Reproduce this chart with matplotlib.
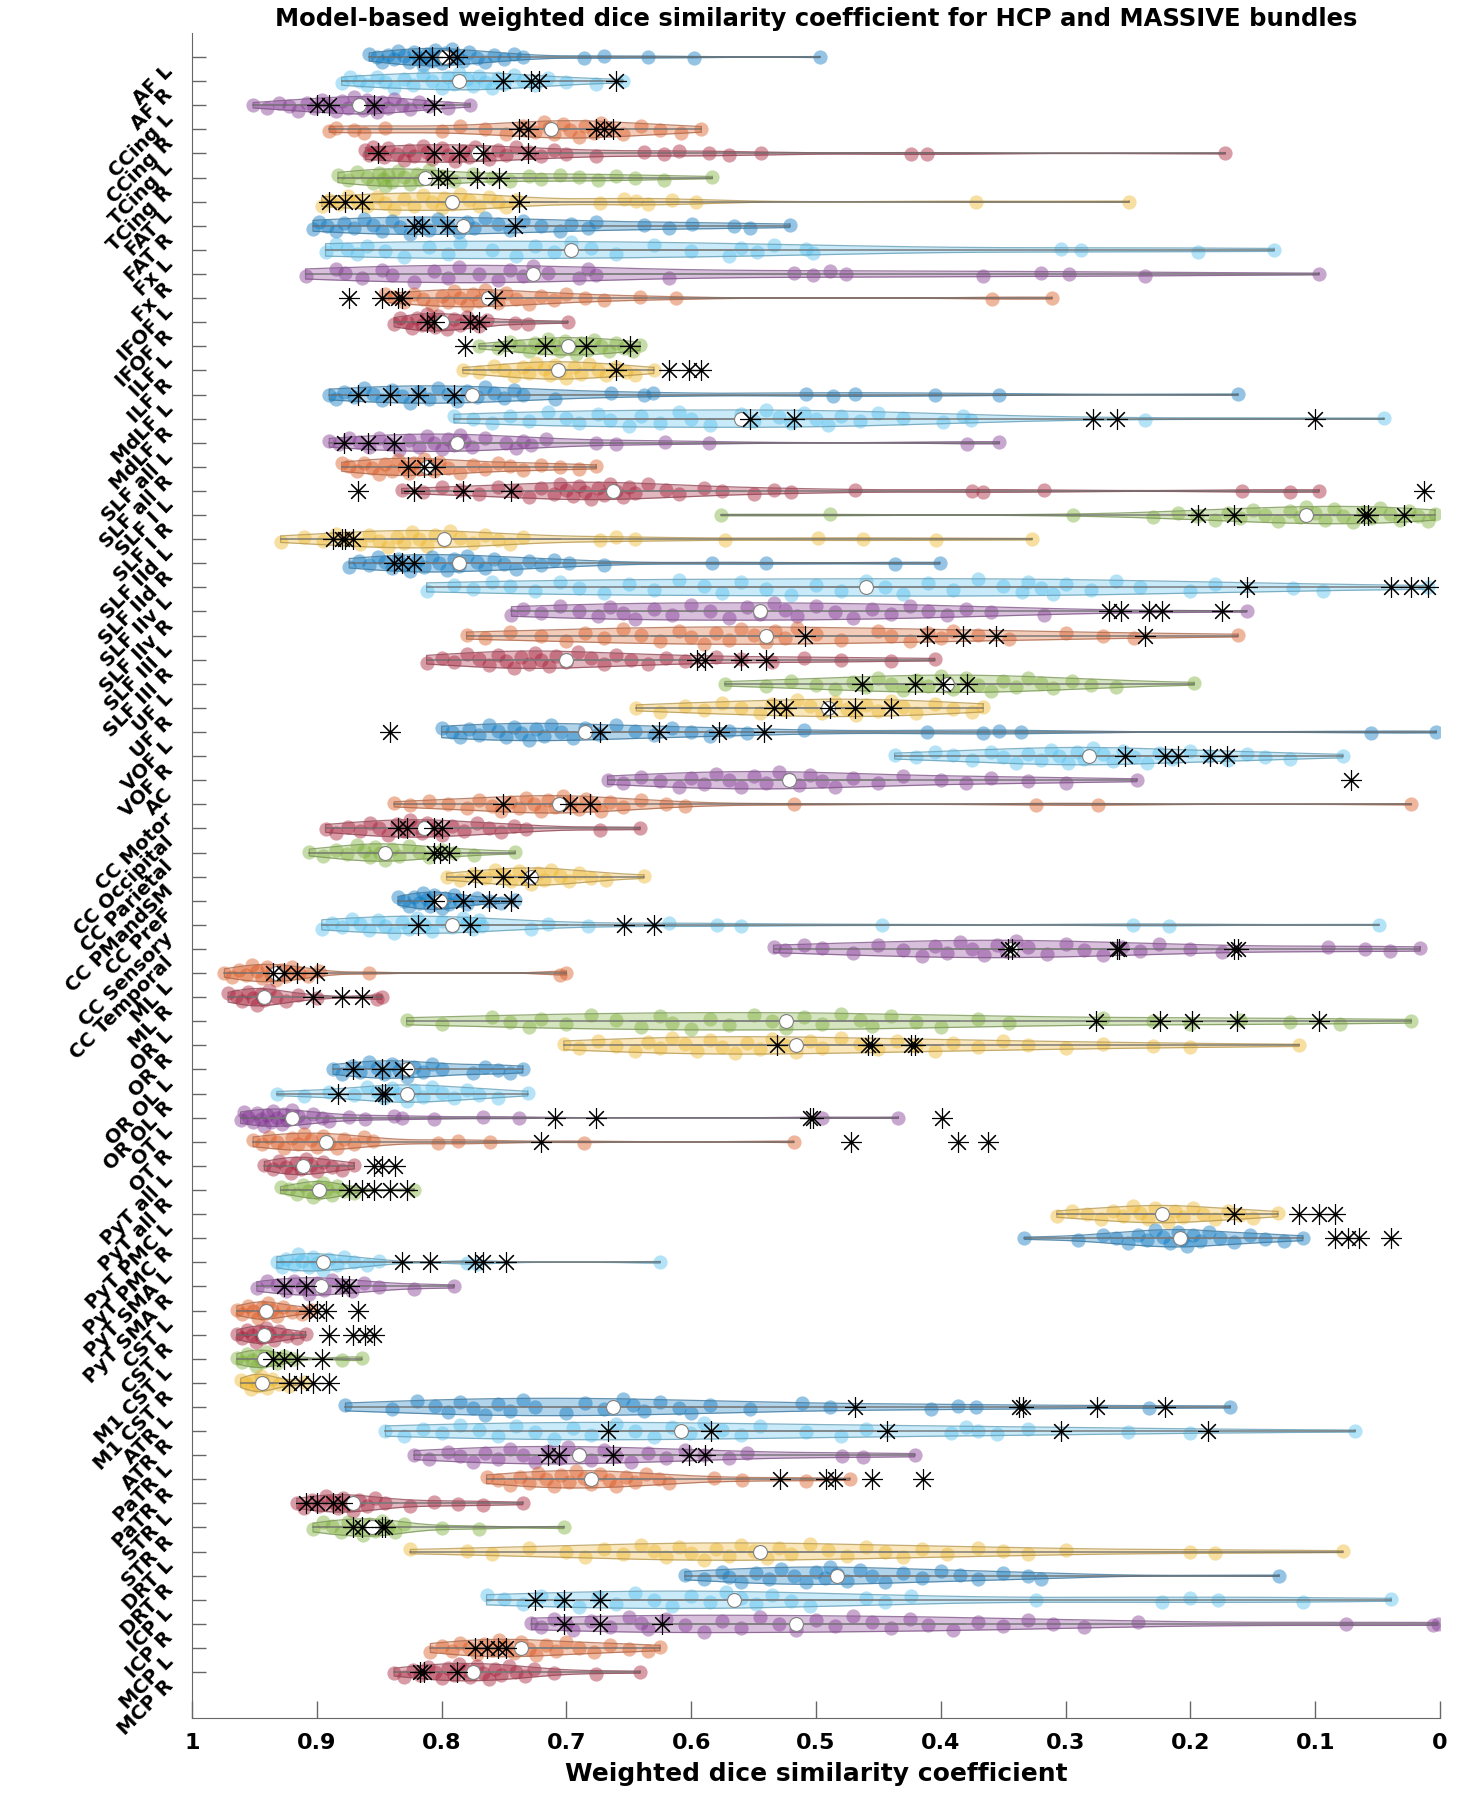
import numpy as np
import matplotlib
matplotlib.use("Agg")
import matplotlib.pyplot as plt
from matplotlib.colors import to_rgb
from matplotlib.transforms import ScaledTranslation, blended_transform_factory

bundles = ["AF L", "AF R", "CCing L", "CCing R", "TCing L", "TCing R", "FAT L", "FAT R",
           "Fx L", "Fx R", "IFOF L", "IFOF R", "ILF L", "ILF R", "MdLF L", "MdLF R",
           "SLF all L", "SLF all R", "SLF I L", "SLF I R", "SLF IId L", "SLF IId R",
           "SLF IIv L", "SLF IIv R", "SLF III L", "SLF III R", "UF L", "UF R", "VOF L", "VOF R",
           "AC", "CC Motor", "CC Occipital", "CC Parietal", "CC PMandSM", "CC PreF",
           "CC Sensory", "CC Temporal", "ML L", "ML R", "OR L", "OR R", "OR OL L", "OR OL R",
           "OT L", "OT R", "PyT all L", "PyT all R", "PyT PMC L", "PyT PMC R", "PyT SMA L",
           "PyT SMA R", "CST L", "CST R", "M1 CST L", "M1 CST R", "ATR L", "ATR R", "PaTR L",
           "PaTR R", "STR L", "STR R", "DRT L", "DRT R", "ICP L", "ICP R", "MCP L", "MCP R"]

# HCP subjects (coloured dots) and MASSIVE (black asterisks), one pair of lists per bundle
hcp_af_l = [0.858, 0.852, 0.848, 0.843, 0.838, 0.835, 0.83, 0.826, 0.822, 0.818, 0.815, 0.812, 0.808, 0.805, 0.802, 0.8, 0.797, 0.795, 0.792, 0.788, 0.783, 0.778, 0.772, 0.765, 0.758, 0.75, 0.742, 0.735, 0.686, 0.67, 0.635, 0.598, 0.497]
massive_af_l = [0.818, 0.808, 0.794, 0.788]
hcp_af_r = [0.88, 0.873, 0.866, 0.86, 0.852, 0.845, 0.838, 0.83, 0.823, 0.815, 0.808, 0.80, 0.795, 0.79, 0.786, 0.78, 0.775, 0.77, 0.765, 0.76, 0.755, 0.75, 0.742, 0.735, 0.725, 0.715, 0.70, 0.676, 0.655]
massive_af_r = [0.751, 0.728, 0.722, 0.660]
hcp_ccing_l = [0.951, 0.94, 0.93, 0.922, 0.915, 0.908, 0.902, 0.896, 0.89, 0.885, 0.88, 0.875, 0.87, 0.866, 0.863, 0.86, 0.856, 0.852, 0.848, 0.843, 0.838, 0.832, 0.825, 0.818, 0.81, 0.795, 0.777]
massive_ccing_l = [0.9, 0.89, 0.854, 0.806]
hcp_ccing_r = [0.89, 0.885, 0.87, 0.862, 0.845, 0.80, 0.785, 0.765, 0.748, 0.735, 0.725, 0.718, 0.714, 0.71, 0.703, 0.697, 0.69, 0.685, 0.678, 0.672, 0.665, 0.655, 0.64, 0.625, 0.608, 0.592]
massive_ccing_r = [0.738, 0.731, 0.676, 0.670, 0.663]
hcp_tcing_l = [0.861, 0.858, 0.855, 0.85, 0.846, 0.843, 0.836, 0.83, 0.826, 0.822, 0.815, 0.812, 0.808, 0.8, 0.795, 0.789, 0.783, 0.778, 0.773, 0.768, 0.762, 0.755, 0.748, 0.74, 0.73, 0.72, 0.71, 0.70, 0.676, 0.638, 0.622, 0.61, 0.586, 0.57, 0.544, 0.424, 0.411, 0.172]
massive_tcing_l = [0.851, 0.806, 0.786, 0.767, 0.731]
hcp_tcing_r = [0.883, 0.875, 0.868, 0.86, 0.855, 0.85, 0.847, 0.845, 0.843, 0.84, 0.835, 0.83, 0.825, 0.82, 0.817, 0.81, 0.8, 0.79, 0.775, 0.76, 0.745, 0.73, 0.72, 0.705, 0.69, 0.675, 0.66, 0.645, 0.622, 0.583]
massive_tcing_r = [0.803, 0.796, 0.772, 0.754]
hcp_fat_l = [0.896, 0.89, 0.882, 0.875, 0.868, 0.86, 0.852, 0.845, 0.838, 0.83, 0.822, 0.815, 0.808, 0.80, 0.798, 0.792, 0.785, 0.778, 0.77, 0.762, 0.755, 0.748, 0.74, 0.673, 0.654, 0.644, 0.635, 0.615, 0.596, 0.372, 0.249]
massive_fat_l = [0.89, 0.877, 0.864, 0.738]
hcp_fat_r = [0.903, 0.898, 0.892, 0.885, 0.878, 0.87, 0.862, 0.855, 0.848, 0.84, 0.833, 0.825, 0.818, 0.81, 0.803, 0.795, 0.786, 0.78, 0.774, 0.765, 0.755, 0.745, 0.735, 0.72, 0.705, 0.696, 0.683, 0.676, 0.638, 0.618, 0.599, 0.566, 0.553, 0.521]
massive_fat_r = [0.822, 0.816, 0.796, 0.741]
hcp_fx_l = [0.893, 0.885, 0.876, 0.868, 0.86, 0.845, 0.83, 0.81, 0.795, 0.785, 0.76, 0.74, 0.725, 0.71, 0.696, 0.68, 0.66, 0.63, 0.6, 0.57, 0.56, 0.547, 0.534, 0.508, 0.502, 0.304, 0.288, 0.194, 0.133]
massive_fx_l = []
hcp_fx_r = [0.909, 0.885, 0.877, 0.864, 0.848, 0.84, 0.822, 0.806, 0.795, 0.786, 0.77, 0.755, 0.745, 0.735, 0.727, 0.715, 0.69, 0.683, 0.676, 0.618, 0.518, 0.502, 0.489, 0.476, 0.366, 0.32, 0.297, 0.236, 0.097]
massive_fx_r = []
hcp_ifof_l = [0.845, 0.838, 0.83, 0.822, 0.815, 0.808, 0.80, 0.795, 0.79, 0.785, 0.78, 0.775, 0.77, 0.765, 0.76, 0.755, 0.748, 0.74, 0.73, 0.72, 0.71, 0.70, 0.685, 0.67, 0.641, 0.612, 0.359, 0.311]
massive_ifof_l = [0.874, 0.848, 0.835, 0.832, 0.757]
hcp_ifof_r = [0.838, 0.833, 0.828, 0.824, 0.82, 0.816, 0.812, 0.808, 0.805, 0.803, 0.8, 0.796, 0.79, 0.785, 0.78, 0.775, 0.77, 0.764, 0.741, 0.731, 0.699]
massive_ifof_r = [0.812, 0.806, 0.777, 0.77]
hcp_ilf_l = [0.77, 0.755, 0.745, 0.738, 0.73, 0.725, 0.72, 0.715, 0.71, 0.705, 0.701, 0.697, 0.692, 0.688, 0.683, 0.678, 0.672, 0.666, 0.66, 0.654, 0.647, 0.641]
massive_ilf_l = [0.781, 0.749, 0.717, 0.684, 0.649]
hcp_ilf_r = [0.783, 0.77, 0.758, 0.75, 0.742, 0.735, 0.73, 0.724, 0.718, 0.713, 0.709, 0.705, 0.70, 0.694, 0.688, 0.682, 0.675, 0.668, 0.66, 0.652, 0.645, 0.63]
massive_ilf_r = [0.66, 0.618, 0.602, 0.592]
hcp_mdlf_l = [0.89, 0.885, 0.878, 0.87, 0.862, 0.855, 0.848, 0.84, 0.832, 0.825, 0.818, 0.81, 0.803, 0.795, 0.788, 0.78, 0.772, 0.765, 0.758, 0.75, 0.742, 0.735, 0.709, 0.664, 0.638, 0.631, 0.508, 0.486, 0.469, 0.405, 0.353, 0.162]
massive_mdlf_l = [0.867, 0.841, 0.819, 0.79]
hcp_mdlf_r = [0.79, 0.775, 0.76, 0.745, 0.73, 0.715, 0.70, 0.69, 0.675, 0.665, 0.65, 0.64, 0.625, 0.61, 0.6, 0.585, 0.56, 0.55, 0.54, 0.53, 0.52, 0.51, 0.5, 0.49, 0.48, 0.465, 0.45, 0.43, 0.398, 0.382, 0.376, 0.236, 0.045]
massive_mdlf_r = [0.553, 0.518, 0.278, 0.259, 0.1]
hcp_slf_all_l = [0.89, 0.882, 0.874, 0.866, 0.858, 0.85, 0.842, 0.834, 0.826, 0.818, 0.812, 0.806, 0.8, 0.795, 0.79, 0.785, 0.782, 0.776, 0.765, 0.748, 0.74, 0.735, 0.728, 0.716, 0.676, 0.66, 0.621, 0.586, 0.379, 0.353]
massive_slf_all_l = [0.878, 0.859, 0.838]
hcp_slf_all_r = [0.88, 0.874, 0.868, 0.862, 0.856, 0.85, 0.845, 0.84, 0.835, 0.83, 0.826, 0.822, 0.818, 0.814, 0.81, 0.806, 0.802, 0.795, 0.785, 0.775, 0.765, 0.755, 0.745, 0.735, 0.72, 0.705, 0.69, 0.676]
massive_slf_all_r = [0.827, 0.814, 0.805]
hcp_slf_i_l = [0.832, 0.815, 0.8, 0.785, 0.77, 0.755, 0.74, 0.73, 0.72, 0.71, 0.705, 0.70, 0.695, 0.69, 0.685, 0.68, 0.675, 0.67, 0.665, 0.66, 0.655, 0.65, 0.645, 0.635, 0.62, 0.61, 0.59, 0.575, 0.55, 0.534, 0.52, 0.469, 0.375, 0.366, 0.317, 0.159, 0.12, 0.097]
massive_slf_i_l = [0.867, 0.822, 0.783, 0.744, 0.013]
hcp_slf_i_r = [0.576, 0.489, 0.294, 0.23, 0.21, 0.195, 0.18, 0.17, 0.16, 0.15, 0.14, 0.13, 0.12, 0.112, 0.107, 0.1, 0.092, 0.085, 0.078, 0.07, 0.062, 0.055, 0.048, 0.04, 0.032, 0.025, 0.018, 0.01, 0.004]
massive_slf_i_r = [0.194, 0.165, 0.061, 0.058, 0.029]
hcp_slf_iid_l = [0.929, 0.91, 0.895, 0.885, 0.875, 0.865, 0.858, 0.85, 0.843, 0.836, 0.83, 0.824, 0.818, 0.812, 0.805, 0.798, 0.793, 0.785, 0.775, 0.765, 0.755, 0.745, 0.735, 0.673, 0.66, 0.645, 0.573, 0.498, 0.462, 0.404, 0.327]
massive_slf_iid_l = [0.887, 0.88, 0.877, 0.871]
hcp_slf_iid_r = [0.874, 0.866, 0.858, 0.851, 0.845, 0.84, 0.835, 0.83, 0.825, 0.82, 0.814, 0.808, 0.802, 0.796, 0.79, 0.786, 0.78, 0.772, 0.765, 0.758, 0.75, 0.74, 0.73, 0.72, 0.71, 0.698, 0.67, 0.583, 0.54, 0.437, 0.401]
massive_slf_iid_r = [0.838, 0.832, 0.822]
hcp_slf_iiv_l = [0.812, 0.79, 0.775, 0.76, 0.745, 0.725, 0.705, 0.69, 0.67, 0.65, 0.63, 0.61, 0.59, 0.575, 0.56, 0.54, 0.52, 0.5, 0.48, 0.46, 0.445, 0.43, 0.41, 0.39, 0.37, 0.35, 0.335, 0.33, 0.32, 0.31, 0.3, 0.28, 0.26, 0.24, 0.2, 0.18, 0.118, 0.094, 0.01]
massive_slf_iiv_l = [0.155, 0.039, 0.023, 0.01]
hcp_slf_iiv_r = [0.744, 0.735, 0.72, 0.705, 0.69, 0.675, 0.665, 0.655, 0.645, 0.63, 0.615, 0.6, 0.585, 0.57, 0.555, 0.545, 0.534, 0.525, 0.515, 0.5, 0.485, 0.47, 0.455, 0.44, 0.425, 0.41, 0.395, 0.38, 0.36, 0.317, 0.155]
massive_slf_iiv_r = [0.265, 0.256, 0.233, 0.223, 0.175]
hcp_slf_iii_l = [0.78, 0.765, 0.745, 0.72, 0.7, 0.685, 0.67, 0.655, 0.64, 0.625, 0.61, 0.6, 0.59, 0.58, 0.57, 0.56, 0.55, 0.54, 0.533, 0.525, 0.515, 0.5, 0.48, 0.45, 0.44, 0.425, 0.41, 0.4, 0.39, 0.37, 0.345, 0.3, 0.27, 0.245, 0.162]
massive_slf_iii_l = [0.509, 0.411, 0.382, 0.356, 0.236]
hcp_slf_iii_r = [0.812, 0.8, 0.79, 0.78, 0.77, 0.762, 0.755, 0.748, 0.742, 0.736, 0.73, 0.725, 0.72, 0.714, 0.708, 0.7, 0.691, 0.68, 0.67, 0.66, 0.648, 0.635, 0.62, 0.605, 0.58, 0.56, 0.535, 0.51, 0.48, 0.44, 0.405]
massive_slf_iii_r = [0.595, 0.589, 0.56, 0.54]
hcp_uf_l = [0.573, 0.54, 0.52, 0.5, 0.485, 0.47, 0.46, 0.45, 0.44, 0.43, 0.42, 0.41, 0.4, 0.395, 0.39, 0.38, 0.37, 0.36, 0.35, 0.34, 0.33, 0.32, 0.31, 0.295, 0.28, 0.26, 0.197]
massive_uf_l = [0.463, 0.421, 0.398, 0.379]
hcp_uf_r = [0.644, 0.625, 0.605, 0.59, 0.575, 0.56, 0.545, 0.535, 0.525, 0.515, 0.505, 0.495, 0.485, 0.475, 0.468, 0.46, 0.45, 0.44, 0.43, 0.42, 0.405, 0.39, 0.375, 0.366]
massive_uf_r = [0.534, 0.524, 0.489, 0.469, 0.44]
hcp_vof_l = [0.8, 0.792, 0.785, 0.778, 0.77, 0.762, 0.755, 0.748, 0.742, 0.736, 0.73, 0.724, 0.718, 0.712, 0.704, 0.695, 0.685, 0.675, 0.66, 0.645, 0.63, 0.615, 0.6, 0.585, 0.57, 0.555, 0.51, 0.411, 0.366, 0.353, 0.336, 0.055, 0.003]
massive_vof_l = [0.841, 0.673, 0.626, 0.578, 0.542]
hcp_vof_r = [0.437, 0.42, 0.405, 0.39, 0.375, 0.36, 0.35, 0.34, 0.33, 0.32, 0.312, 0.305, 0.298, 0.291, 0.285, 0.278, 0.27, 0.262, 0.254, 0.245, 0.235, 0.225, 0.215, 0.2, 0.185, 0.17, 0.155, 0.14, 0.12, 0.078]
massive_vof_r = [0.252, 0.22, 0.21, 0.184, 0.171]
hcp_ac = [0.667, 0.655, 0.64, 0.625, 0.61, 0.6, 0.59, 0.58, 0.57, 0.56, 0.55, 0.54, 0.53, 0.522, 0.514, 0.505, 0.495, 0.485, 0.47, 0.45, 0.43, 0.4, 0.38, 0.36, 0.33, 0.3, 0.243]
massive_ac = [0.071]
hcp_cc_motor = [0.838, 0.825, 0.81, 0.795, 0.78, 0.77, 0.76, 0.752, 0.745, 0.738, 0.732, 0.726, 0.72, 0.715, 0.709, 0.703, 0.697, 0.69, 0.684, 0.678, 0.672, 0.665, 0.655, 0.64, 0.62, 0.605, 0.518, 0.324, 0.274, 0.023]
massive_cc_motor = [0.751, 0.697, 0.681]
hcp_cc_occipital = [0.893, 0.885, 0.875, 0.865, 0.857, 0.85, 0.843, 0.836, 0.83, 0.825, 0.82, 0.816, 0.812, 0.806, 0.8, 0.792, 0.782, 0.772, 0.762, 0.752, 0.742, 0.732, 0.673, 0.641]
massive_cc_occipital = [0.835, 0.828, 0.806, 0.8]
hcp_cc_parietal = [0.906, 0.895, 0.885, 0.876, 0.868, 0.862, 0.857, 0.853, 0.849, 0.845, 0.84, 0.834, 0.826, 0.818, 0.81, 0.8, 0.79, 0.774, 0.741]
massive_cc_parietal = [0.806, 0.801, 0.794]
hcp_cc_pmandsm = [0.796, 0.785, 0.775, 0.765, 0.757, 0.75, 0.744, 0.738, 0.733, 0.728, 0.723, 0.718, 0.712, 0.705, 0.698, 0.69, 0.68, 0.668, 0.638]
massive_cc_pmandsm = [0.773, 0.751, 0.731]
hcp_cc_pref = [0.835, 0.83, 0.826, 0.822, 0.818, 0.815, 0.812, 0.809, 0.806, 0.803, 0.8, 0.797, 0.794, 0.79, 0.786, 0.78, 0.772, 0.762, 0.752, 0.741]
massive_cc_pref = [0.806, 0.783, 0.762, 0.744]
hcp_cc_sensory = [0.896, 0.888, 0.88, 0.872, 0.865, 0.858, 0.851, 0.845, 0.838, 0.832, 0.826, 0.82, 0.814, 0.808, 0.8, 0.792, 0.783, 0.78, 0.775, 0.77, 0.768, 0.728, 0.715, 0.683, 0.618, 0.579, 0.56, 0.447, 0.246, 0.217, 0.049]
massive_cc_sensory = [0.819, 0.777, 0.654, 0.63]
hcp_cc_temporal = [0.534, 0.525, 0.51, 0.495, 0.47, 0.45, 0.43, 0.415, 0.405, 0.395, 0.385, 0.375, 0.365, 0.355, 0.348, 0.34, 0.33, 0.315, 0.3, 0.285, 0.27, 0.255, 0.24, 0.225, 0.2, 0.175, 0.09, 0.06, 0.04, 0.016]
massive_cc_temporal = [0.346, 0.343, 0.259, 0.257, 0.165, 0.162]
hcp_ml_l = [0.974, 0.968, 0.962, 0.957, 0.952, 0.948, 0.944, 0.94, 0.937, 0.933, 0.929, 0.925, 0.92, 0.914, 0.907, 0.898, 0.858, 0.705, 0.7]
massive_ml_l = [0.935, 0.926, 0.916, 0.9]
hcp_ml_r = [0.971, 0.965, 0.96, 0.955, 0.951, 0.948, 0.945, 0.942, 0.938, 0.933, 0.925, 0.915, 0.9, 0.852, 0.848]
massive_ml_r = [0.903, 0.88, 0.864]
hcp_or_l = [0.828, 0.8, 0.76, 0.745, 0.73, 0.72, 0.7, 0.68, 0.66, 0.64, 0.625, 0.615, 0.6, 0.585, 0.57, 0.55, 0.535, 0.524, 0.51, 0.495, 0.48, 0.465, 0.455, 0.44, 0.42, 0.4, 0.37, 0.345, 0.27, 0.23, 0.2, 0.16, 0.12, 0.08, 0.023]
massive_or_l = [0.276, 0.224, 0.199, 0.163, 0.097]
hcp_or_r = [0.702, 0.69, 0.675, 0.66, 0.645, 0.635, 0.625, 0.615, 0.605, 0.595, 0.585, 0.575, 0.565, 0.555, 0.545, 0.535, 0.525, 0.516, 0.505, 0.495, 0.48, 0.465, 0.45, 0.435, 0.42, 0.405, 0.39, 0.37, 0.35, 0.33, 0.3, 0.27, 0.23, 0.2, 0.113]
massive_or_r = [0.531, 0.458, 0.455, 0.424, 0.421]
hcp_or_ol_l = [0.887, 0.88, 0.872, 0.865, 0.858, 0.852, 0.846, 0.84, 0.834, 0.828, 0.822, 0.815, 0.808, 0.8, 0.775, 0.765, 0.755, 0.745, 0.735]
massive_or_ol_l = [0.871, 0.848, 0.832]
hcp_or_ol_r = [0.932, 0.91, 0.89, 0.87, 0.86, 0.852, 0.846, 0.84, 0.834, 0.828, 0.822, 0.815, 0.808, 0.8, 0.79, 0.78, 0.77, 0.755, 0.731]
massive_or_ol_r = [0.883, 0.848, 0.845]
hcp_ot_l = [0.961, 0.958, 0.955, 0.951, 0.948, 0.945, 0.942, 0.94, 0.937, 0.935, 0.932, 0.928, 0.926, 0.924, 0.92, 0.915, 0.91, 0.903, 0.896, 0.89, 0.874, 0.861, 0.838, 0.832, 0.806, 0.767, 0.738, 0.495, 0.434]
massive_ot_l = [0.709, 0.676, 0.505, 0.502, 0.399]
hcp_ot_r = [0.951, 0.944, 0.938, 0.932, 0.926, 0.92, 0.915, 0.91, 0.905, 0.9, 0.895, 0.89, 0.884, 0.878, 0.87, 0.862, 0.855, 0.803, 0.787, 0.761, 0.686, 0.518]
massive_ot_r = [0.72, 0.472, 0.386, 0.362]
hcp_pyt_all_l = [0.942, 0.935, 0.93, 0.925, 0.921, 0.917, 0.913, 0.909, 0.905, 0.9, 0.895, 0.888, 0.88, 0.87]
massive_pyt_all_l = [0.854, 0.848, 0.837]
hcp_pyt_all_r = [0.929, 0.922, 0.916, 0.911, 0.907, 0.903, 0.9, 0.898, 0.895, 0.892, 0.888, 0.884, 0.878, 0.87, 0.822]
massive_pyt_all_r = [0.874, 0.864, 0.854, 0.841, 0.828]
hcp_pyt_pmc_l = [0.307, 0.295, 0.283, 0.272, 0.262, 0.254, 0.246, 0.24, 0.234, 0.228, 0.223, 0.218, 0.212, 0.206, 0.198, 0.19, 0.18, 0.17, 0.16, 0.15, 0.13]
massive_pyt_pmc_l = [0.165, 0.113, 0.097, 0.084]
hcp_pyt_pmc_r = [0.333, 0.29, 0.27, 0.26, 0.25, 0.242, 0.235, 0.228, 0.222, 0.216, 0.21, 0.207, 0.203, 0.198, 0.192, 0.185, 0.176, 0.165, 0.152, 0.14, 0.125, 0.11]
massive_pyt_pmc_r = [0.084, 0.074, 0.065, 0.039]
hcp_pyt_sma_l = [0.932, 0.928, 0.925, 0.918, 0.915, 0.912, 0.906, 0.903, 0.9, 0.895, 0.89, 0.884, 0.878, 0.87, 0.86, 0.85, 0.78, 0.772, 0.625]
massive_pyt_sma_l = [0.832, 0.809, 0.773, 0.767, 0.748]
hcp_pyt_sma_r = [0.948, 0.94, 0.932, 0.925, 0.918, 0.912, 0.906, 0.9, 0.894, 0.888, 0.88, 0.872, 0.862, 0.85, 0.822, 0.79]
massive_pyt_sma_r = [0.926, 0.909, 0.88, 0.874]
hcp_cst_l = [0.964, 0.96, 0.955, 0.951, 0.947, 0.944, 0.942, 0.939, 0.936, 0.932, 0.927, 0.92, 0.912, 0.905]
massive_cst_l = [0.906, 0.9, 0.893, 0.867]
hcp_cst_r = [0.964, 0.96, 0.956, 0.952, 0.949, 0.946, 0.944, 0.941, 0.938, 0.934, 0.93, 0.924, 0.916, 0.909]
massive_cst_r = [0.89, 0.871, 0.861, 0.854]
hcp_m1_cst_l = [0.964, 0.96, 0.956, 0.952, 0.949, 0.946, 0.944, 0.941, 0.937, 0.932, 0.926, 0.918, 0.88, 0.864]
massive_m1_cst_l = [0.935, 0.926, 0.916, 0.896]
hcp_m1_cst_r = [0.961, 0.957, 0.953, 0.95, 0.947, 0.945, 0.943, 0.94, 0.936, 0.93, 0.922, 0.91]
massive_m1_cst_r = [0.922, 0.913, 0.903, 0.89]
hcp_atr_l = [0.877, 0.84, 0.82, 0.805, 0.795, 0.785, 0.775, 0.765, 0.755, 0.745, 0.735, 0.725, 0.7, 0.685, 0.67, 0.655, 0.647, 0.638, 0.625, 0.61, 0.6, 0.585, 0.553, 0.511, 0.489, 0.408, 0.386, 0.372, 0.233, 0.168]
massive_atr_l = [0.469, 0.337, 0.334, 0.275, 0.22]
hcp_atr_r = [0.845, 0.83, 0.815, 0.8, 0.785, 0.77, 0.755, 0.74, 0.725, 0.71, 0.695, 0.68, 0.66, 0.645, 0.63, 0.615, 0.601, 0.59, 0.575, 0.56, 0.545, 0.508, 0.48, 0.46, 0.392, 0.38, 0.37, 0.355, 0.33, 0.25, 0.2, 0.068]
massive_atr_r = [0.667, 0.584, 0.443, 0.304, 0.186]
hcp_patr_l = [0.822, 0.81, 0.795, 0.785, 0.775, 0.765, 0.755, 0.745, 0.735, 0.725, 0.715, 0.705, 0.699, 0.69, 0.68, 0.67, 0.66, 0.648, 0.635, 0.62, 0.605, 0.59, 0.57, 0.555, 0.479, 0.462, 0.421]
massive_patr_l = [0.715, 0.706, 0.663, 0.602, 0.589]
hcp_patr_r = [0.764, 0.755, 0.745, 0.737, 0.73, 0.723, 0.716, 0.71, 0.704, 0.698, 0.692, 0.686, 0.68, 0.673, 0.666, 0.66, 0.652, 0.645, 0.636, 0.626, 0.618, 0.582, 0.559, 0.508, 0.473]
massive_patr_r = [0.529, 0.492, 0.485, 0.455, 0.414]
hcp_str_l = [0.916, 0.91, 0.904, 0.898, 0.893, 0.888, 0.883, 0.879, 0.875, 0.871, 0.866, 0.86, 0.853, 0.845, 0.825, 0.806, 0.787, 0.767, 0.735]
massive_str_l = [0.909, 0.9, 0.887, 0.88]
hcp_str_r = [0.903, 0.895, 0.888, 0.881, 0.875, 0.869, 0.863, 0.858, 0.853, 0.848, 0.843, 0.837, 0.83, 0.8, 0.77, 0.702]
massive_str_r = [0.871, 0.864, 0.848, 0.845]
hcp_drt_l = [0.825, 0.78, 0.76, 0.73, 0.7, 0.685, 0.67, 0.655, 0.64, 0.63, 0.62, 0.61, 0.6, 0.59, 0.58, 0.57, 0.56, 0.55, 0.539, 0.53, 0.52, 0.505, 0.49, 0.475, 0.46, 0.445, 0.43, 0.415, 0.395, 0.37, 0.35, 0.33, 0.3, 0.2, 0.18, 0.078]
massive_drt_l = []
hcp_drt_r = [0.605, 0.59, 0.575, 0.57, 0.56, 0.548, 0.538, 0.528, 0.518, 0.508, 0.5, 0.493, 0.489, 0.483, 0.475, 0.465, 0.455, 0.445, 0.43, 0.415, 0.4, 0.385, 0.37, 0.35, 0.33, 0.32, 0.129]
massive_drt_r = []
hcp_icp_l = [0.764, 0.75, 0.735, 0.72, 0.705, 0.69, 0.675, 0.66, 0.645, 0.63, 0.615, 0.6, 0.585, 0.572, 0.56, 0.548, 0.535, 0.52, 0.505, 0.46, 0.445, 0.424, 0.324, 0.223, 0.2, 0.178, 0.11, 0.039]
massive_icp_l = [0.725, 0.702, 0.673]
hcp_icp_r = [0.728, 0.72, 0.71, 0.7, 0.695, 0.68, 0.665, 0.65, 0.64, 0.635, 0.62, 0.605, 0.59, 0.575, 0.56, 0.545, 0.53, 0.516, 0.5, 0.485, 0.47, 0.455, 0.44, 0.425, 0.41, 0.39, 0.37, 0.35, 0.33, 0.31, 0.285, 0.242, 0.075, 0.006, 0.002]
massive_icp_r = [0.702, 0.673, 0.623]
hcp_mcp_l = [0.809, 0.8, 0.792, 0.785, 0.778, 0.772, 0.766, 0.76, 0.754, 0.748, 0.742, 0.736, 0.73, 0.724, 0.716, 0.708, 0.7, 0.69, 0.678, 0.665, 0.65, 0.635, 0.625]
massive_mcp_l = [0.773, 0.764, 0.755, 0.748]
hcp_mcp_r = [0.838, 0.83, 0.823, 0.817, 0.811, 0.805, 0.8, 0.795, 0.79, 0.786, 0.781, 0.777, 0.772, 0.767, 0.762, 0.757, 0.752, 0.746, 0.74, 0.733, 0.726, 0.71, 0.676, 0.641]
massive_mcp_r = [0.817, 0.814, 0.788]

hcp = [hcp_af_l, hcp_af_r, hcp_ccing_l, hcp_ccing_r, hcp_tcing_l, hcp_tcing_r, hcp_fat_l, hcp_fat_r,
       hcp_fx_l, hcp_fx_r, hcp_ifof_l, hcp_ifof_r, hcp_ilf_l, hcp_ilf_r, hcp_mdlf_l, hcp_mdlf_r,
       hcp_slf_all_l, hcp_slf_all_r, hcp_slf_i_l, hcp_slf_i_r, hcp_slf_iid_l, hcp_slf_iid_r,
       hcp_slf_iiv_l, hcp_slf_iiv_r, hcp_slf_iii_l, hcp_slf_iii_r, hcp_uf_l, hcp_uf_r, hcp_vof_l, hcp_vof_r,
       hcp_ac, hcp_cc_motor, hcp_cc_occipital, hcp_cc_parietal, hcp_cc_pmandsm, hcp_cc_pref,
       hcp_cc_sensory, hcp_cc_temporal, hcp_ml_l, hcp_ml_r, hcp_or_l, hcp_or_r, hcp_or_ol_l, hcp_or_ol_r,
       hcp_ot_l, hcp_ot_r, hcp_pyt_all_l, hcp_pyt_all_r, hcp_pyt_pmc_l, hcp_pyt_pmc_r, hcp_pyt_sma_l,
       hcp_pyt_sma_r, hcp_cst_l, hcp_cst_r, hcp_m1_cst_l, hcp_m1_cst_r, hcp_atr_l, hcp_atr_r, hcp_patr_l,
       hcp_patr_r, hcp_str_l, hcp_str_r, hcp_drt_l, hcp_drt_r, hcp_icp_l, hcp_icp_r, hcp_mcp_l, hcp_mcp_r]
massive = [massive_af_l, massive_af_r, massive_ccing_l, massive_ccing_r, massive_tcing_l, massive_tcing_r,
           massive_fat_l, massive_fat_r, massive_fx_l, massive_fx_r, massive_ifof_l, massive_ifof_r,
           massive_ilf_l, massive_ilf_r, massive_mdlf_l, massive_mdlf_r, massive_slf_all_l, massive_slf_all_r,
           massive_slf_i_l, massive_slf_i_r, massive_slf_iid_l, massive_slf_iid_r, massive_slf_iiv_l,
           massive_slf_iiv_r, massive_slf_iii_l, massive_slf_iii_r, massive_uf_l, massive_uf_r,
           massive_vof_l, massive_vof_r, massive_ac, massive_cc_motor, massive_cc_occipital,
           massive_cc_parietal, massive_cc_pmandsm, massive_cc_pref, massive_cc_sensory, massive_cc_temporal,
           massive_ml_l, massive_ml_r, massive_or_l, massive_or_r, massive_or_ol_l, massive_or_ol_r,
           massive_ot_l, massive_ot_r, massive_pyt_all_l, massive_pyt_all_r, massive_pyt_pmc_l,
           massive_pyt_pmc_r, massive_pyt_sma_l, massive_pyt_sma_r, massive_cst_l, massive_cst_r,
           massive_m1_cst_l, massive_m1_cst_r, massive_atr_l, massive_atr_r, massive_patr_l, massive_patr_r,
           massive_str_l, massive_str_r, massive_drt_l, massive_drt_r, massive_icp_l, massive_icp_r,
           massive_mcp_l, massive_mcp_r]

# matlab line colours, in the order the bundles cycle through them
colors = ["#0072BD", "#4DBEEE", "#7E2F8E", "#D95319", "#A2142F", "#77AC30", "#EDB120"]


def kde(data, grid):
    # gaussian kernel density, silverman bandwidth (like ksdensity)
    n = len(data)
    sig = np.median(np.abs(data - np.median(data))) / 0.6745
    bw = max(sig * (4.0 / (3.0 * n)) ** 0.2, 0.004)
    d = np.exp(-0.5 * ((grid[:, None] - data[None, :]) / bw) ** 2).sum(axis=1)
    return d / d.max()


def draw_violin(ax, vals, pos, color, width=0.36):
    vals = np.sort(np.asarray(vals, dtype=float))
    grid = np.linspace(vals.min(), vals.max(), 300)
    dens = kde(vals, grid) * width
    edge = 0.5 * np.array(to_rgb(color)) + 0.25

    # scatter the subjects inside the violin
    at = np.interp(vals, grid, dens)
    u = ((np.arange(len(vals)) * 0.618034 + 0.37) % 1.0) * 2 - 1
    ax.scatter(vals, pos + u * at, s=105, color=color, alpha=0.42, lw=0, zorder=2)

    ax.fill_between(grid, pos - dens, pos + dens, color=color, alpha=0.3, lw=0, zorder=3)
    ax.plot(np.r_[grid, grid[::-1], grid[0]], np.r_[pos - dens, (pos + dens)[::-1], pos - dens[0]],
            color=edge, lw=0.9, alpha=0.8, zorder=3)

    q1, med, q3 = np.percentile(vals, [25, 50, 75])
    ax.plot([vals.min(), vals.max()], [pos, pos], color="0.42", lw=1.1, alpha=0.85, zorder=4)
    ax.fill_between([q1, q3], pos - 0.04, pos + 0.04, color="0.5", alpha=0.6, lw=0, zorder=4)
    ax.plot(med, pos, "o", mfc="white", mec="0.5", ms=10, mew=0.8, zorder=5)


fig = plt.figure(figsize=(14.6, 18), dpi=100)
ax = fig.add_axes([0.1315, 0.0456, 0.8548, 0.9361])

for i, (vals, ms) in enumerate(zip(hcp, massive)):
    pos = i + 1
    draw_violin(ax, vals, pos, colors[i % 7])
    if len(ms):
        ax.plot(ms, [pos] * len(ms), ls="none", marker=(8, 2, 0), ms=15, mec="black", mew=0.8, zorder=6)

ax.set_xlim(1, 0)
ax.set_ylim(len(bundles) + 1.9, 0)
ticks = np.round(np.arange(0, 1.01, 0.1), 1)
ax.set_xticks(ticks)
ax.set_xticklabels([f"{t:g}" for t in ticks], fontsize=16, fontweight="bold")
ax.set_yticks(np.arange(1, len(bundles) + 1))
ax.set_yticklabels([])
ax.tick_params(axis="x", direction="in", length=12, width=1, color="0.4", pad=11)
ax.tick_params(axis="y", direction="in", length=10, width=1, color="0.4")
for side in ["top", "right"]:
    ax.spines[side].set_visible(False)
for side in ["left", "bottom"]:
    ax.spines[side].set_color("0.4")

trans = blended_transform_factory(ax.transAxes, ax.transData) + ScaledTranslation(-0.22, -0.11, fig.dpi_scale_trans)
for i, name in enumerate(bundles):
    ax.text(0, i + 1, name, transform=trans, rotation=45, rotation_mode="anchor",
            ha="right", va="center", fontsize=14, fontweight="bold")

ax.set_xlabel("Weighted dice similarity coefficient", fontsize=18, fontweight="bold", labelpad=6)
ax.set_title("Model-based weighted dice similarity coefficient for HCP and MASSIVE bundles",
             fontsize=17.5, fontweight="bold", pad=5)

fig.savefig("out.png", dpi=100)
